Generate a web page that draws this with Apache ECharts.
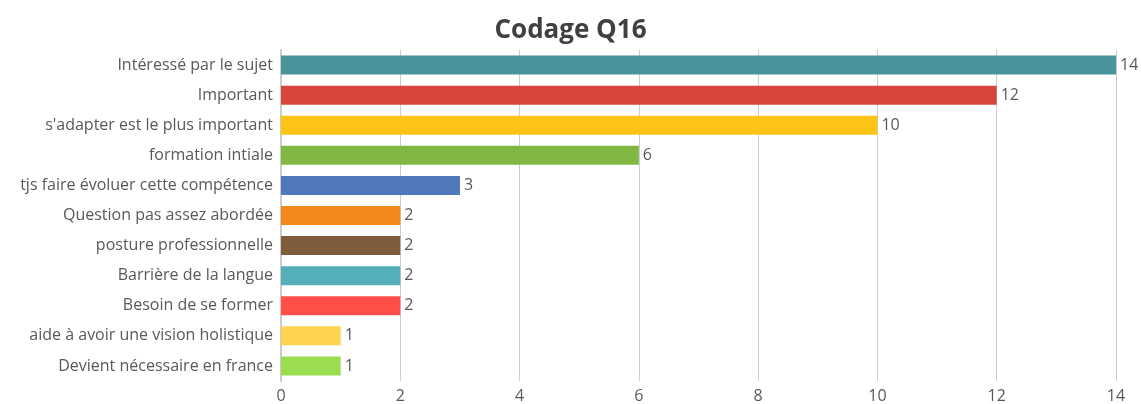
<!DOCTYPE html>
<html><head><meta charset="utf-8">
<script src="https://cdn.jsdelivr.net/npm/echarts@6/dist/echarts.min.js"></script>
<style>html,body{margin:0;padding:0;background:#fff}#c{width:1141px;height:404px}</style>
</head><body><div id="c"></div>
<script>
const categories = ["Intéressé par le sujet","Important","s'adapter est le plus important","formation intiale","tjs faire évoluer cette compétence","Question pas assez abordée","posture professionnelle","Barrière de la langue","Besoin de se former","aide à avoir une vision holistique","Devient nécessaire en france"];
const values = [14,12,10,6,3,2,2,2,2,1,1];
const colors = ["#49939B","#D9443C","#FDC418","#80B843","#4F78BD","#F28A1B","#7E5B3A","#55AFBA","#FF4F47","#FFD34E","#9ADD4E"];
const ff = "'Open Sans', 'Noto Sans', sans-serif";
const chart = echarts.init(document.getElementById('c'));
chart.setOption({
  animation:false,
  title:{text:'Codage Q16',left:'center',top:13,textStyle:{fontFamily:ff,fontSize:26,fontWeight:'bold',color:'#404040'}},
  grid:{left:281,right:25,top:50,bottom:21},
  xAxis:{type:'value',min:0,max:14,interval:2,
    axisLine:{show:false},axisTick:{show:false},
    splitLine:{lineStyle:{color:'#cccccc',width:1}},
    axisLabel:{fontFamily:ff,fontSize:16,color:'#595959',margin:7}},
  yAxis:{type:'category',inverse:true,data:categories,
    axisLine:{show:true,lineStyle:{color:'#cccccc',width:2}},axisTick:{show:false},
    axisLabel:{fontFamily:ff,fontSize:16,color:'#595959',margin:8}},
  series:[{type:'bar',barWidth:19,
    data:values.map((v,i)=>({value:v,itemStyle:{color:colors[i]}})),
    label:{show:true,position:'right',distance:4,fontFamily:ff,fontSize:16,color:'#595959'}}]
});
</script></body></html>
